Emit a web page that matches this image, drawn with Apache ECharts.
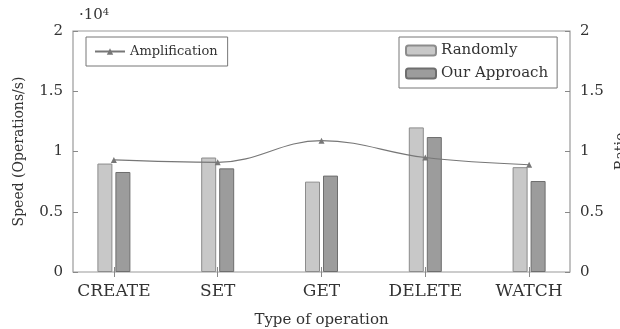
<!DOCTYPE html>
<html><head><meta charset="utf-8">
<script src="https://cdn.jsdelivr.net/npm/echarts@6/dist/echarts.min.js"></script>
<style>html,body{margin:0;padding:0;background:#fff}#c{width:620px;height:329px}</style>
</head><body><div id="c"></div>
<script>
var categories = ['CREATE', 'SET', 'GET', 'DELETE', 'WATCH'];
var randomly = [0.90, 0.95, 0.75, 1.20, 0.87];
var ourApproach = [0.83, 0.86, 0.80, 1.12, 0.755];
var amplification = [0.93, 0.91, 1.09, 0.95, 0.89];
var yTicks = [0, 0.5, 1, 1.5, 2];

var FONT = 'DejaVu Serif';
var chart = echarts.init(document.getElementById('c'), null, {renderer: 'canvas'});
var tickLabel = function (v) { return yTicks.indexOf(v) >= 0 ? String(v) : ''; };
var hiddenLine = {show: true, lineStyle: {color: 'rgba(0,0,0,0)'}};
chart.setOption({
  animation: false,
  textStyle: {fontFamily: FONT},
  grid: [
    {left: 62, right: 39, top: 31, bottom: 57, containLabel: false, outerBoundsMode: 'none'},
    {left: 73, right: 50, top: 31, bottom: 57, containLabel: false, outerBoundsMode: 'none',
     show: true, borderColor: '#9a9a9a', borderWidth: 1.2, backgroundColor: 'transparent'}
  ],
  legend: [
    {data: ['Amplification'], left: 86, top: 37, orient: 'vertical', padding: [8, 10, 8, 8],
     borderColor: '#777', borderWidth: 1, itemWidth: 30, itemHeight: 8,
     textStyle: {fontFamily: FONT, fontSize: 13, color: '#333'}},
    {data: ['Randomly', 'Our Approach'], left: 399, top: 37, orient: 'vertical', padding: [6, 9, 7, 6], itemGap: 8,
     borderColor: '#777', borderWidth: 1, itemWidth: 30, itemHeight: 10,
     textStyle: {fontFamily: FONT, fontSize: 15, color: '#333'}}
  ],
  xAxis: [
    {type: 'category', gridIndex: 0, data: categories, position: 'bottom',
     axisLine: hiddenLine, axisTick: {show: true, alignWithLabel: true, inside: true, length: 5, lineStyle: {color: '#888'}},
     axisLabel: {fontFamily: FONT, fontSize: 17, color: '#333', margin: 11},
     name: 'Type of operation', nameLocation: 'middle', nameGap: 41,
     nameTextStyle: {fontFamily: FONT, fontSize: 15, color: '#333'}},
    {type: 'category', gridIndex: 0, data: categories, position: 'top',
     axisLine: hiddenLine, axisTick: {show: true, alignWithLabel: true, inside: true, length: 5, lineStyle: {color: '#888'}},
     axisLabel: {show: false}},
    {type: 'value', gridIndex: 1, show: false}
  ],
  yAxis: [
    {type: 'value', gridIndex: 0, min: 0, max: 2, show: false},
    {type: 'value', gridIndex: 0, min: 0, max: 2, show: false},
    {type: 'value', gridIndex: 1, position: 'left', min: 0, max: 2, interval: 0.5,
     axisLine: hiddenLine, splitLine: {show: false},
     axisTick: {show: true, inside: true, length: 5, lineStyle: {color: '#888'}},
     axisLabel: {fontFamily: FONT, fontSize: 15, color: '#333', margin: 10, formatter: tickLabel},
     name: 'Speed (Operations/s)', nameLocation: 'middle', nameGap: 47, nameRotate: 90,
     nameTextStyle: {fontFamily: FONT, fontSize: 14, color: '#333'}},
    {type: 'value', gridIndex: 1, position: 'right', min: 0, max: 2, interval: 0.5,
     axisLine: hiddenLine, splitLine: {show: false},
     axisTick: {show: true, inside: true, length: 5, lineStyle: {color: '#888'}},
     axisLabel: {fontFamily: FONT, fontSize: 15, color: '#333', margin: 10, formatter: tickLabel},
     name: 'Ratio', nameLocation: 'middle', nameGap: 44, nameRotate: 90,
     nameTextStyle: {fontFamily: FONT, fontSize: 14, color: '#333'}}
  ],
  graphic: [
    {type: 'text', left: 79, top: 7, style: {
      text: '{a|·10}{b|4}', fill: '#333',
      rich: {a: {fontFamily: FONT, fontSize: 15, color: '#333'}, b: {fontFamily: FONT, fontSize: 10, color: '#333', verticalAlign: 'top', padding: [0, 0, 7, 0]}}
    }}
  ],
  series: [
    {name: 'Randomly', type: 'bar', xAxisIndex: 0, yAxisIndex: 0, data: randomly, barWidth: 15, barGap: '20%',
     itemStyle: {color: '#c8c8c8', borderColor: '#8c8c8c', borderWidth: 1}, z: 2},
    {name: 'Our Approach', type: 'bar', xAxisIndex: 0, yAxisIndex: 0, data: ourApproach, barWidth: 15, barGap: '20%',
     itemStyle: {color: '#9c9c9c', borderColor: '#6e6e6e', borderWidth: 1}, z: 2},
    {name: 'Amplification', type: 'line', xAxisIndex: 0, yAxisIndex: 1, data: amplification, smooth: 0.4,
     symbol: 'triangle', symbolSize: 6, showSymbol: true,
     lineStyle: {color: '#777777', width: 1.2}, itemStyle: {color: '#777777'}, z: 5}
  ]
});
</script></body></html>
